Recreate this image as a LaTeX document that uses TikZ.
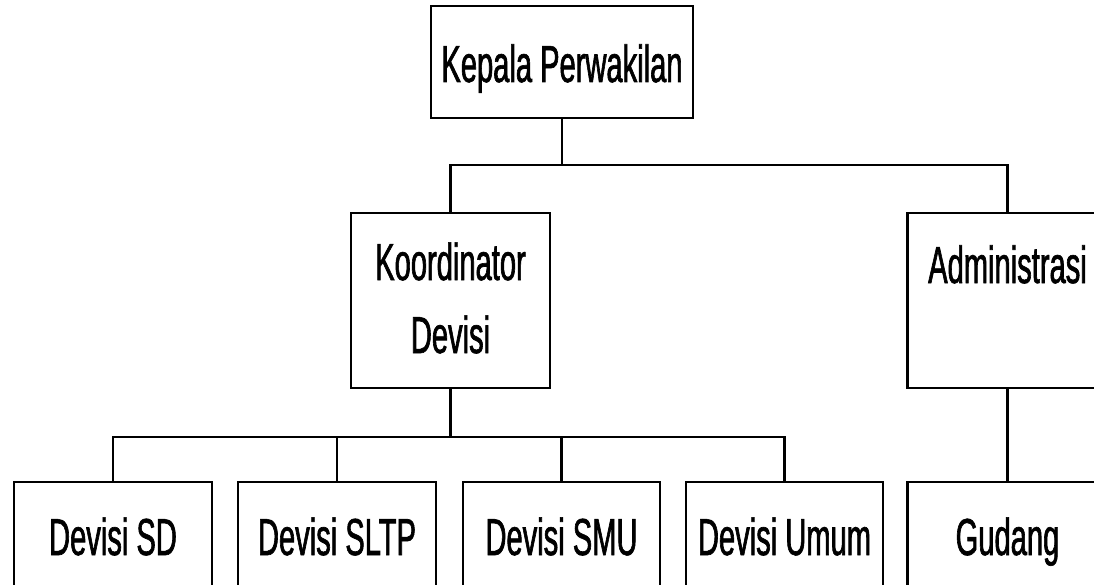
\documentclass[tikz,border=0pt]{standalone}
\usepackage{fontspec}
\setmainfont[FakeStretch=0.56,FakeBold=1.2]{Liberation Sans}
\begin{document}
\begin{tikzpicture}[x=1pt,y=-1pt,
  box/.style={draw, line width=2.4pt, inner sep=0pt, rectangle},
  lbl/.style={font=\fontsize{52}{60}\selectfont, inner sep=0pt, anchor=base},
  conn/.style={line width=2.2pt}]
\useasboundingbox (0,0) rectangle (1094,585);
\clip (0,0) rectangle (1094,585);
% boxes
\node[box, minimum width=262pt, minimum height=112pt] (kepala) at (562,62) {};
\node[box, minimum width=199pt, minimum height=175pt] (koord) at (450.5,300.5) {};
\node[box, minimum width=200pt, minimum height=175pt] (admin) at (1007.5,300.5) {};
\node[box, minimum width=198pt, minimum height=158pt] (sd) at (113,561) {};
\node[box, minimum width=198pt, minimum height=158pt] (sltp) at (337,561) {};
\node[box, minimum width=197pt, minimum height=158pt] (smu) at (561.5,561) {};
\node[box, minimum width=197pt, minimum height=158pt] (umum) at (784.5,561) {};
\node[box, minimum width=200pt, minimum height=158pt] (gudang) at (1007.5,561) {};
% texts
\node[lbl] (kepalaT) at (562,82) {Kepala Perwakilan};
\node[lbl] (koordT1) at (450.5,280) {Koordinator};
\node[lbl] (koordT2) at (450.5,353) {Devisi};
\node[lbl] (adminT) at (1007.5,283) {Administrasi};
\node[lbl] (sdT) at (113,555) {Devisi SD};
\node[lbl] (sltpT) at (337,555) {Devisi SLTP};
\node[lbl] (smuT) at (561.5,555) {Devisi SMU};
\node[lbl] (umumT) at (784.5,555) {Devisi Umum};
\node[lbl] (gudangT) at (1007.5,555) {Gudang};
% connectors
\draw[conn] (kepala.south) -- ++(0,46) -| (koord.north);
\draw[conn] (kepala.south) ++(0,46) -| (admin.north);
\draw[conn] (koord.south) -- ++(0,48) -| (sd.north);
\draw[conn] (koord.south) ++(0,48) -| (sltp.north);
\draw[conn] (koord.south) ++(0,48) -| (smu.north);
\draw[conn] (koord.south) ++(0,48) -| (umum.north);
\draw[conn] (admin.south) -- (gudang.north);
\end{tikzpicture}
\end{document}
